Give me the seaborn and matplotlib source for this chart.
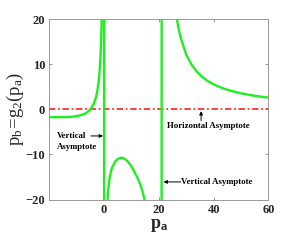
#! /usr/bin/env python3

import pandas as pd
import seaborn as sns
import numpy as np
import matplotlib
matplotlib.use('Agg')

import matplotlib.pyplot as plt

# curve p_b = g_2(p_a) (values beyond +-20 are off-axis,
# they only make the jumps across the two poles at p_a = 0 and p_a = 21)
p_a = [-20, -18, -16, -14, -12, -10, -8, -7, -6, -5, -4, -3.5, -3, -2.5, -2,
       -1.75, -1.5, -1.25, -1.0, -0.9, -0.8, -0.6, -0.4, -0.2, -0.05,
       0.05, 0.3, 0.6, 1.0, 1.2, 1.5, 2, 2.5, 3, 4, 5, 6, 7, 8, 9, 10, 11,
       12, 13, 14, 15, 16, 17, 18, 19, 20, 20.8,
       21.2, 22, 23, 24, 25, 26, 27, 28, 30, 32, 34, 36, 38, 40, 43, 46,
       50, 55, 60]
p_b = [-1.71, -1.73, -1.74, -1.72, -1.65, -1.51, -1.21, -0.96, -0.58, 0.0,
       0.94, 1.64, 2.6, 3.98, 6.1, 7.64, 9.71, 12.6, 17.0, 19.5, 22.5, 31.8,
       50.3, 106, 440,
       -451, -80, -43, -23.5, -20.5, -17.8, -15.3, -13.8, -12.8, -11.6,
       -11.0, -10.75, -10.8, -11.2, -11.8, -12.7, -13.8, -15.0, -16.3, -18.1,
       -20.6, -24.4, -30, -39.8, -59, -117, -580,
       578, 114.9, 57.0, 37.7, 28.1, 22.3, 18.5, 15.8, 12.1, 9.84, 8.26,
       7.11, 6.23, 5.54, 4.75, 4.15, 3.55, 3.0, 2.6]
h_asym = 0
x_ticks = [0, 20, 40, 60]
y_ticks = [-20, -10, 0, 10, 20]


def main():
    sns.set_style('ticks')
    plt.rcParams['font.family'] = ['Liberation Serif', 'DejaVu Serif']
    plt.rcParams['mathtext.fontset'] = 'custom'
    plt.rcParams['mathtext.rm'] = 'Liberation Serif'
    plt.rcParams['mathtext.it'] = 'Liberation Serif'
    plt.rcParams['mathtext.bf'] = 'Liberation Serif:bold'

    df = pd.DataFrame({'pa': p_a, 'pb': p_b})
    fig = plt.figure(figsize=(2.97, 2.46), dpi=100)
    ax = fig.add_axes([0.166, 0.189, 0.738, 0.733])

    ax.axhline(h_asym, color='#ff3030', lw=1.3, ls=(0, (3.5, 1.5, 1, 1.5)), zorder=1)
    sns.lineplot(data=df, x='pa', y='pb', sort=False, estimator=None,
                 color='#1ef01e', lw=1.7, ax=ax, zorder=2)

    ax.set_xlim(-20, 60)
    ax.set_ylim(-20, 20)
    ax.set_xticks(x_ticks)
    ax.set_yticks(y_ticks)
    ax.tick_params(direction='in', length=2.5, width=0.6, color='#888888',
                   top=True, right=True, labelsize=9, pad=3)
    for lab in ax.get_xticklabels() + ax.get_yticklabels():
        lab.set_fontweight('bold')
    for s in ax.spines.values():
        s.set_color('#999999')
        s.set_linewidth(0.7)

    ax.set_xlabel(r'$\mathbf{p_a}$', fontsize=13, labelpad=1)
    ax.set_ylabel(r'$\mathrm{p_b\!=\!g_2(p_a)}$', fontsize=13.5, labelpad=0)

    akw = dict(fontsize=6.3, fontweight='bold', color='black')
    arr = dict(arrowstyle='-|>', color='black', lw=0.7, mutation_scale=5,
               shrinkA=0, shrinkB=0)
    ax.text(-17.2, -5.9, 'Vertical', ha='left', va='center', **akw)
    ax.text(-17.2, -8.3, 'Asymptote', ha='left', va='center', **akw)
    ax.annotate('', xy=(-0.4, -5.9), xytext=(-4.8, -5.9), arrowprops=arr)
    ax.text(38, -3.7, 'Horizontal Asymptote', ha='center', va='center', **akw)
    ax.annotate('', xy=(35.4, -0.4), xytext=(35.4, -2.5), arrowprops=arr)
    ax.text(28.2, -16.1, 'Vertical Asymptote', ha='left', va='center', **akw)
    ax.annotate('', xy=(21.7, -16.1), xytext=(28, -16.1), arrowprops=arr)

    plt.savefig('out.png', dpi=100)


if __name__ == '__main__':
    main()
